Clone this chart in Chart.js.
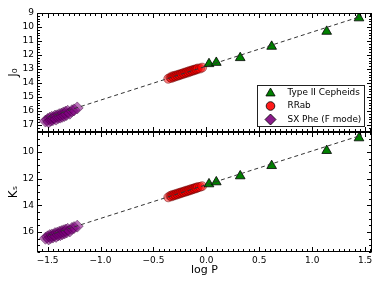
<!DOCTYPE html>
<html><head><meta charset="utf-8">
<script src="https://cdn.jsdelivr.net/npm/chart.js@4/dist/chart.umd.min.js"></script>
<style>
html,body{margin:0;padding:0;background:#fff;}
#wrap{position:relative;width:382px;height:286px;overflow:hidden;}
canvas{position:absolute;left:0;top:0;}
</style></head><body>
<div id="wrap"><canvas id="cTop" width="382" height="286"></canvas><canvas id="cBot" width="382" height="286"></canvas></div>
<script>
// ---- data ----
const seriesNames = ['Type II Cepheids', 'RRab', 'SX Phe (F mode)'];

const cephLogP = [0.025, 0.094, 0.32, 0.617, 1.137, 1.442];
const cephJ    = [12.63, 12.54, 12.20, 11.39, 10.32, 9.36];
const cephK    = [12.40, 12.25, 11.80, 11.03, 9.90, 8.95];

const rrLogP = [-0.36,-0.34,-0.33,-0.32,-0.31,-0.30,-0.29,-0.28,-0.27,-0.26,-0.25,-0.24,-0.23,-0.22,-0.21,
                -0.20,-0.19,-0.18,-0.17,-0.16,-0.15,-0.14,-0.13,-0.12,-0.11,-0.10,-0.09,-0.08,-0.06,-0.04];
const rrJ = [13.70,13.60,13.64,13.52,13.58,13.49,13.53,13.44,13.48,13.40,13.43,13.35,13.38,13.30,13.33,
             13.25,13.28,13.20,13.24,13.15,13.18,13.10,13.13,13.06,13.08,13.01,13.03,12.96,12.97,12.90];
const rrK = [13.40,13.29,13.33,13.22,13.27,13.18,13.22,13.13,13.17,13.08,13.11,13.03,13.06,12.98,13.01,
             12.93,12.96,12.88,12.91,12.83,12.86,12.78,12.80,12.73,12.75,12.68,12.70,12.63,12.62,12.56];

const sxLogP = [-1.52,-1.50,-1.49,-1.48,-1.47,-1.46,-1.45,-1.44,-1.43,-1.42,-1.41,-1.40,-1.39,-1.38,-1.37,
                -1.36,-1.35,-1.34,-1.33,-1.32,-1.31,-1.29,-1.27,-1.25,-1.22];
const sxJ = [16.72,16.60,16.78,16.52,16.66,16.45,16.62,16.48,16.36,16.58,16.34,16.47,16.26,16.44,16.22,
             16.38,16.14,16.32,16.08,16.25,16.02,16.16,15.98,15.92,15.78];
const sxK = [16.47,16.36,16.52,16.27,16.42,16.22,16.38,16.24,16.12,16.33,16.09,16.22,16.02,16.20,15.97,
             16.13,15.91,16.07,15.85,16.00,15.80,15.92,15.73,15.67,15.56];

const fitLogP = [-1.50, 1.47];
const fitJ    = [16.44, 9.22];
const fitK    = [16.25, 8.73];

const xTickVals    = [-1.5, -1.0, -0.5, 0.0, 0.5, 1.0, 1.5];
const yTopTickVals = [9, 10, 11, 12, 13, 14, 15, 16, 17];
const yBotTickVals = [10, 12, 14, 16];

// ---- helpers ----
const pts = (xs, ys) => xs.map((x, i) => ({x: x, y: ys[i]}));
const FONT = 'DejaVu Sans';
const fmtX = v => v.toFixed(1).replace('-', '\u2212');

function drawMarker(ctx, style, x, y, r) {
  ctx.beginPath();
  if (style === 'triangle') {
    ctx.moveTo(x, y - r);
    ctx.lineTo(x + r * Math.sin(2 * Math.PI / 3), y - r * Math.cos(2 * Math.PI / 3));
    ctx.lineTo(x + r * Math.sin(4 * Math.PI / 3), y - r * Math.cos(4 * Math.PI / 3));
    ctx.closePath();
  } else if (style === 'circle') {
    ctx.arc(x, y, r, 0, Math.PI * 2);
  } else {
    ctx.moveTo(x, y - r); ctx.lineTo(x + r, y); ctx.lineTo(x, y + r); ctx.lineTo(x - r, y); ctx.closePath();
  }
  ctx.fill(); ctx.stroke();
}

const frameTicks = {
  id: 'frameTicks',
  afterDraw(chart, args, o) {
    const {ctx, chartArea: a, scales: {x, y}} = chart;
    ctx.save();
    ctx.strokeStyle = '#000';
    ctx.lineWidth = 1;
    const L = Math.round(a.left) + 0.5, R = Math.round(a.right) - 0.5;
    const T = Math.round(a.top) + 0.5, B = Math.round(a.bottom) - 0.5;
    ctx.beginPath();
    const majX = x.ticks.map(t => t.value);
    for (let v = Math.ceil(x.min / o.xMinor) * o.xMinor; v <= x.max + 1e-9; v += o.xMinor) {
      const isMaj = majX.some(m => Math.abs(m - v) < 1e-6);
      const len = isMaj ? 4.5 : 2.5;
      const px = Math.round(x.getPixelForValue(v)) + 0.5;
      ctx.moveTo(px, B); ctx.lineTo(px, B - len);
      ctx.moveTo(px, T); ctx.lineTo(px, T + len);
    }
    const majY = y.ticks.map(t => t.value);
    for (let v = Math.ceil(y.min / o.yMinor) * o.yMinor; v <= y.max + 1e-9; v += o.yMinor) {
      const isMaj = majY.some(m => Math.abs(m - v) < 1e-6);
      const len = isMaj ? 4.5 : 2.5;
      const py = Math.round(y.getPixelForValue(v)) + 0.5;
      ctx.moveTo(L, py); ctx.lineTo(L + len, py);
      ctx.moveTo(R, py); ctx.lineTo(R - len, py);
    }
    ctx.stroke();
    ctx.strokeRect(L, T, R - L, B - T);

    if (o.legend) {
      const bx = 257.5, by = 85.5, bw = 107, bh = 41;
      ctx.fillStyle = '#fff';
      ctx.strokeStyle = '#222';
      ctx.fillRect(bx, by, bw, bh);
      ctx.strokeRect(bx, by, bw, bh);
      const styles = [
        {s: 'triangle', f: '#008000', r: 5.3},
        {s: 'circle', f: '#ff1a1a', r: 4.3},
        {s: 'diamond', f: '#8a1a8a', r: 5.5}
      ];
      const rows = [92.5, 106, 119.5];
      ctx.font = '8.9px "' + FONT + '"';
      ctx.textBaseline = 'middle';
      ctx.textAlign = 'left';
      chart.data.datasets.filter(d => d.label).forEach((d, i) => {
        ctx.fillStyle = styles[i].f;
        ctx.strokeStyle = '#000';
        ctx.lineWidth = 0.8;
        drawMarker(ctx, styles[i].s, 270.5, rows[i] + (i === 0 ? 0.8 : 0), styles[i].r);
        ctx.fillStyle = '#000';
        ctx.fillText(d.label, 287.5, rows[i]);
      });
    }
    ctx.restore();
  }
};

function makeChart(id, cfg) {
  const datasets = [
    {data: pts(fitLogP, cfg.fit), showLine: true, pointRadius: 0, borderColor: '#333', borderWidth: 1,
     borderDash: [4, 3], fill: false},
    {label: seriesNames[0], data: pts(cephLogP, cfg.ceph), pointStyle: 'triangle', pointRadius: 5.6,
     backgroundColor: '#008000', borderColor: '#000', borderWidth: 0.8},
    {label: seriesNames[1], data: pts(rrLogP, cfg.rr), pointStyle: 'circle', pointRadius: 4.5,
     backgroundColor: 'rgba(255,0,0,0.5)', borderColor: 'rgba(90,0,0,0.55)', borderWidth: 0.8},
    {label: seriesNames[2], data: pts(sxLogP, cfg.sx), pointStyle: 'rectRot', pointRadius: 6,
     backgroundColor: 'rgba(128,0,128,0.55)', borderColor: 'rgba(50,0,50,0.55)', borderWidth: 0.8}
  ];
  return new Chart(document.getElementById(id), {
    type: 'scatter',
    data: {datasets},
    options: {
      responsive: false, animation: false, devicePixelRatio: 1,
      layout: {padding: cfg.padding},
      plugins: {legend: {display: false}, tooltip: {enabled: false},
                frameTicks: {xMinor: 0.05, yMinor: cfg.yMinor, legend: cfg.legend}},
      scales: {
        x: {
          type: 'linear', min: -1.6, max: 1.565, display: cfg.showX,
          grid: {display: false, drawTicks: false}, border: {display: false},
          afterBuildTicks: s => { s.ticks = xTickVals.map(v => ({value: v})); },
          afterFit: s => { if (cfg.showX) s.height = 34; },
          ticks: {padding: 3, color: '#000', font: {family: FONT, size: 9}, callback: v => fmtX(v), maxRotation: 0, autoSkip: false},
          title: {display: cfg.showX, text: 'log P', color: '#000', font: {family: FONT, size: 11},
                  padding: {top: 0, bottom: 9}}
        },
        y: {
          type: 'linear', min: cfg.yMin, max: cfg.yMax, reverse: true,
          grid: {display: false, drawTicks: false}, border: {display: false},
          afterBuildTicks: s => { s.ticks = cfg.yTicks.map(v => ({value: v})); },
          afterFit: s => { s.width = 37; },
          ticks: {padding: 3, color: '#000', font: {family: FONT, size: 9}, autoSkip: false},
          title: {display: true, text: cfg.yTitle, color: '#000', font: {family: FONT, size: 12},
                  padding: {top: 7, bottom: 0}}
        }
      }
    },
    plugins: [frameTicks]
  });
}

makeChart('cTop', {fit: fitJ, ceph: cephJ, rr: rrJ, sx: sxJ, yMin: 9, yMax: 17.5, yTicks: yTopTickVals,
  yMinor: 0.2, yTitle: 'J\u2080', showX: false, legend: true,
  padding: {left: 0, right: 10, top: 13, bottom: 154}});
makeChart('cBot', {fit: fitK, ceph: cephK, rr: rrK, sx: sxK, yMin: 8.5, yMax: 17.5, yTicks: yBotTickVals,
  yMinor: 0.5, yTitle: 'K\u209B', showX: true, legend: false,
  padding: {left: 0, right: 10, top: 132, bottom: 0}});
</script>
</body></html>
